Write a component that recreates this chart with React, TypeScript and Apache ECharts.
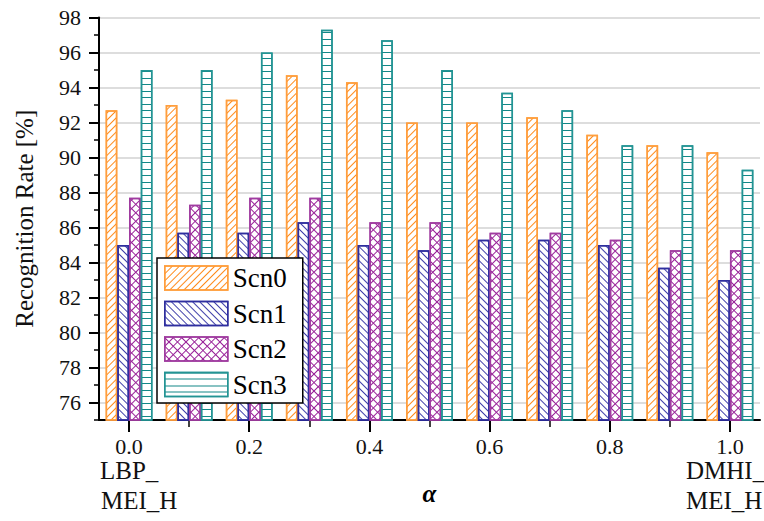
import React, { useEffect, useRef } from "react";
import * as echarts from "echarts";

const categories = ["0.0", "0.1", "0.2", "0.3", "0.4", "0.5", "0.6", "0.7", "0.8", "0.9", "1.0"];
const scn0 = [92.7, 93.0, 93.3, 94.7, 94.3, 92.0, 92.0, 92.3, 91.3, 90.7, 90.3];
const scn1 = [85.0, 85.7, 85.7, 86.3, 85.0, 84.7, 85.3, 85.3, 85.0, 83.7, 83.0];
const scn2 = [87.7, 87.3, 87.7, 87.7, 86.3, 86.3, 85.7, 85.7, 85.3, 84.7, 84.7];
const scn3 = [95.0, 95.0, 96.0, 97.3, 96.7, 95.0, 93.7, 92.7, 90.7, 90.7, 89.3];
const seriesNames = ["Scn0", "Scn1", "Scn2", "Scn3"];
const yMajorTicks = [76, 78, 80, 82, 84, 86, 88, 90, 92, 94, 96, 98];
const yMinorTicks = [75, 77, 79, 81, 83, 85, 87, 89, 91, 93, 95, 97];
const leftEndLabel = ["LBP_", "MEI_H"];
const rightEndLabel = ["DMHI_", "MEI_H"];

const FONT = "Liberation Serif";

export default function App() {
  const ref = useRef<HTMLDivElement>(null);
  useEffect(() => {
    if (!ref.current) return;
    const chart = echarts.init(ref.current, undefined, { renderer: "svg" });

    const styles = [
      {
        border: "#FF9E3D",
        decal: { symbol: "rect", symbolSize: 1, color: "#FF8A1A", dashArrayX: [[1, 0]], dashArrayY: [1, 4], rotation: -Math.PI / 4 },
      },
      {
        border: "#2E2E9E",
        decal: { symbol: "rect", symbolSize: 1, color: "#4040AA", dashArrayX: [[1, 0]], dashArrayY: [1, 4], rotation: Math.PI / 4 },
      },
      {
        border: "#A03CA0",
        decal: { symbol: "rect", symbolSize: 1, color: "#992299", dashArrayX: [[6, 0], [1, 5]], dashArrayY: [1, 0, 5, 0], rotation: Math.PI / 4 },
      },
      {
        border: "#239494",
        decal: { symbol: "rect", symbolSize: 1, color: "#128787", dashArrayX: [[1, 0]], dashArrayY: [1, 5, 1, 6], rotation: 0 },
      },
    ];
    const datas = [scn0, scn1, scn2, scn3];

    const series = datas.map((d, i) => ({
      name: seriesNames[i],
      type: "bar",
      data: d,
      barGap: "0%",
      barCategoryGap: "22%",
      itemStyle: {
        color: "#ffffff",
        borderColor: styles[i].border,
        borderWidth: 1.5,
        decal: styles[i].decal,
      },
    }));

    chart.setOption({
      animation: false,
      backgroundColor: "#ffffff",
      textStyle: { fontFamily: FONT },
      grid: { left: 99, right: 4, top: 17.5, bottom: 101, containLabel: false },
      legend: {
        orient: "vertical",
        left: 157,
        top: 258,
        padding: [6.5, 16, 5, 7],
        itemWidth: 63,
        itemHeight: 24,
        itemGap: 8.5,
        backgroundColor: "#ffffff",
        borderColor: "#000000",
        borderWidth: 1.5,
        icon: "rect",
        textStyle: { fontFamily: FONT, fontSize: 27, color: "#000", lineHeight: 27 },
        data: seriesNames.map((n, i) => ({
          name: n,
          itemStyle: { borderColor: styles[i].border, borderWidth: 1.5, color: "#fff", decal: styles[i].decal },
        })),
      },
      xAxis: [
        {
          type: "category",
          data: categories,
          position: "bottom",
          name: "α",
          nameLocation: "middle",
          nameGap: 61,
          nameTextStyle: { fontFamily: FONT, fontSize: 25, fontStyle: "italic", fontWeight: "bold", color: "#000" },
          axisLine: { show: true, lineStyle: { color: "#000", width: 2 } },
          axisTick: { show: true, alignWithLabel: true, interval: 1, length: 12, lineStyle: { color: "#000", width: 2 } },
          axisLabel: { interval: 1, margin: 15, fontFamily: FONT, fontSize: 22, color: "#111" },
          splitLine: { show: false },
        },
        {
          type: "category",
          data: categories,
          position: "bottom",
          axisLine: { show: false },
          axisTick: { show: true, alignWithLabel: true, interval: 0, length: 7, lineStyle: { color: "#000", width: 1.5 } },
          axisLabel: { show: false },
          splitLine: { show: false },
        },
      ],
      yAxis: [
        {
          type: "value",
          min: 75,
          max: 98,
          name: "Recognition Rate [%]",
          nameLocation: "middle",
          nameGap: 62,
          nameTextStyle: { fontFamily: FONT, fontSize: 25, color: "#111" },
          axisLine: { show: true, lineStyle: { color: "#000", width: 2 } },
          axisTick: { show: true, customValues: yMajorTicks, length: 10, lineStyle: { color: "#000", width: 2 } },
          axisLabel: { customValues: yMajorTicks, margin: 18, fontFamily: FONT, fontSize: 22, color: "#111" },
          splitLine: { show: true, lineStyle: { color: "#d2d2d2", width: 1.5 } },
        },
        {
          type: "value",
          min: 75,
          max: 98,
          position: "left",
          axisLine: { show: false },
          axisTick: { show: true, customValues: yMinorTicks, length: 5, lineStyle: { color: "#000", width: 1.5 } },
          axisLabel: { show: false, customValues: yMinorTicks },
          splitLine: { show: false },
        },
      ],
      series,
      graphic: [
        { type: "text", left: 100, top: 458, style: { text: leftEndLabel[0], fontFamily: FONT, fontSize: 25, fill: "#111" } },
        { type: "text", left: 101, top: 488, style: { text: leftEndLabel[1], fontFamily: FONT, fontSize: 25, fill: "#111" } },
        { type: "text", left: 686, top: 458, style: { text: rightEndLabel[0], fontFamily: FONT, fontSize: 25, fill: "#111" } },
        { type: "text", left: 686, top: 488, style: { text: rightEndLabel[1], fontFamily: FONT, fontSize: 25, fill: "#111" } },
      ],
    });
    return () => chart.dispose();
  }, []);
  return <div ref={ref} style={{ width: 764, height: 521, position: "absolute", left: 0, top: 0 }} />;
}
